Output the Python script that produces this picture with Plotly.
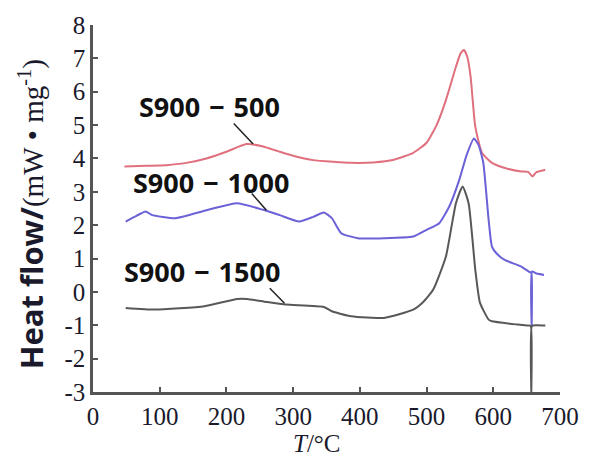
import plotly.graph_objects as go

# ---- data ----
t_500 = [47, 80, 110, 138, 170, 200, 230, 255, 280, 304, 330, 360, 387, 420, 451, 480, 500, 515, 529, 544, 551, 556, 561, 566, 573, 583, 598, 620, 642, 652, 659, 664, 678]
hf_500 = [3.76, 3.78, 3.80, 3.86, 4.0, 4.2, 4.43, 4.36, 4.2, 4.06, 3.95, 3.9, 3.87, 3.88, 3.96, 4.17, 4.47, 5.0, 5.75, 6.75, 7.15, 7.25, 7.05, 6.45, 4.96, 4.17, 3.87, 3.7, 3.61, 3.6, 3.46, 3.58, 3.66]

t_1000 = [49, 65, 79, 88, 123, 170, 216, 255, 280, 309, 330, 346, 358, 372, 397, 436, 480, 500, 519, 534, 549, 560, 571, 578, 585, 593, 598, 605, 617, 642, 654, 657, 657.5, 658, 665, 676]
hf_1000 = [2.11, 2.28, 2.41, 2.31, 2.21, 2.45, 2.66, 2.46, 2.3, 2.11, 2.25, 2.38, 2.21, 1.76, 1.61, 1.61, 1.66, 1.86, 2.06, 2.56, 3.36, 4.1, 4.6, 4.4, 3.87, 2.16, 1.36, 1.15, 0.96, 0.76, 0.6, 0.57, -1.03, 0.61, 0.55, 0.51]

t_1500 = [49, 93, 167, 216, 231, 260, 289, 346, 358, 387, 436, 480, 495, 510, 529, 544, 554, 563, 573, 580, 593, 598, 637, 651, 656, 657, 658, 665, 678]
hf_1500 = [-0.48, -0.53, -0.43, -0.21, -0.21, -0.3, -0.38, -0.45, -0.58, -0.73, -0.78, -0.53, -0.3, 0.07, 1.06, 2.66, 3.16, 2.66, 0.67, -0.32, -0.83, -0.88, -0.98, -1.01, -1.02, -3.0, -1.02, -1.0, -1.01]

series_names = ["S900 − 500", "S900 − 1000", "S900 − 1500"]
series_colors = ["#e0707e", "#6a62d6", "#585858"]

x_ticks = [0, 100, 200, 300, 400, 500, 600, 700]
y_ticks = [-3, -2, -1, 0, 1, 2, 3, 4, 5, 6, 7, 8]

# label positions (data coords) and leader lines (x0, y0, x1, y1)
label_pos = [(174, 5.55), (177, 3.28), (163, 0.60)]
leader_lines = [(211, 5.05, 240, 4.43), (238, 2.95, 260, 2.45), (265, 0.11, 287, -0.34)]

fig = go.Figure()
for t, hf, name, col in zip([t_500, t_1000, t_1500], [hf_500, hf_1000, hf_1500], series_names, series_colors):
    fig.add_trace(go.Scatter(x=t, y=hf, mode="lines", name=name,
                             line=dict(color=col, width=2, shape="spline", smoothing=0.5),
                             showlegend=False))

tick_font = dict(family="Liberation Serif", size=25, color="#1a1a2c")

fig.update_layout(
    width=591, height=456,
    margin=dict(l=93, r=21, t=25, b=64),
    paper_bgcolor="white", plot_bgcolor="white",
    xaxis=dict(range=[0, 700], tickvals=x_ticks, ticktext=[str(v) for v in x_ticks],
               showgrid=False, zeroline=False, showline=True, linecolor="#555555", linewidth=2.5,
               ticks="inside", ticklen=5, tickwidth=1.5, tickcolor="#555555",
               tickfont=tick_font),
    yaxis=dict(range=[-3, 8], tickvals=y_ticks, ticktext=[str(v) for v in y_ticks],
               showgrid=False, zeroline=False, showline=True, linecolor="#555555", linewidth=2.5,
               ticks="inside", ticklen=5, tickwidth=1.5, tickcolor="#555555",
               tickfont=tick_font),
)

for (x, y), name in zip(label_pos, series_names):
    fig.add_annotation(x=x, y=y, xref="x", yref="y",
                       text="<b>" + name.replace(" ", "\u2004") + "</b>",
                       showarrow=False, font=dict(family="Open Sans", size=27, color="#111111"))

for x0, y0, x1, y1 in leader_lines:
    fig.add_shape(type="line", xref="x", yref="y", x0=x0, y0=y0, x1=x1, y1=y1,
                  line=dict(color="#222222", width=1.5))

# axis titles
fig.add_annotation(xref="paper", yref="paper", x=(30 - 93) / 477, y=(392 - 214) / 367,
                   textangle=-90, showarrow=False, xanchor="center", yanchor="middle",
                   text="<b><span style='font-family:Open Sans;font-size:31px'>Heat\u00a0flow/</span></b>(mW\u00a0•\u00a0mg<sup>-1</sup>)",
                   font=dict(family="Liberation Serif", size=29, color="#1a1a2c"))
fig.add_annotation(xref="paper", yref="paper", x=(322 - 93) / 477, y=-(443 - 392) / 367,
                   showarrow=False, xanchor="center", yanchor="middle",
                   text="<i>T</i>/°C",
                   font=dict(family="Liberation Serif", size=25, color="#1a1a2c"))

fig.write_html("out.html")
